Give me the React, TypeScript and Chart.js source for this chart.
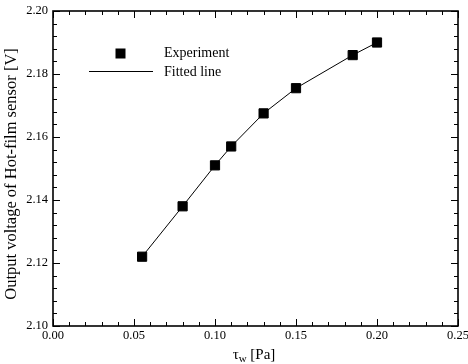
import React, { useEffect, useRef } from "react";
import { Chart, registerables } from "chart.js";
Chart.register(...registerables);

const tauW = [0.055, 0.08, 0.1, 0.11, 0.13, 0.15, 0.185, 0.2];
const voltage = [2.122, 2.138, 2.151, 2.157, 2.1675, 2.1755, 2.186, 2.19];
const fittedTau = [0.055, 0.08, 0.1, 0.11, 0.13, 0.15, 0.185, 0.2];
const fittedVoltage = [2.122, 2.138, 2.151, 2.157, 2.1675, 2.1755, 2.186, 2.19];
const xMajorStep = 0.05;
const xMinorStep = 0.01;
const yMajorStep = 0.02;
const yMinorStep = 0.004;
const xRange = [0, 0.25];
const yRange = [2.1, 2.2];
const legendLabels = ["Experiment", "Fitted line"];
const yTitle = "Output voltage of Hot-film sensor [V]";

const FONT = "'Liberation Serif', 'Times New Roman', serif";

const framePlugin = {
  id: "frameTicks",
  afterDatasetsDraw(chart: any) {
    const { ctx, chartArea: a, scales } = chart;
    const xs = scales.x, ys = scales.y;
    ctx.save();
    ctx.strokeStyle = "#000";
    ctx.lineWidth = 1;
    const tick = (v: number, major: boolean, axis: "x" | "y") => {
      const len = major ? 7 : 4;
      ctx.beginPath();
      if (axis === "x") {
        const p = Math.round(xs.getPixelForValue(v)) + 0.5;
        ctx.moveTo(p, a.bottom); ctx.lineTo(p, a.bottom - len);
        ctx.moveTo(p, a.top); ctx.lineTo(p, a.top + len);
      } else {
        const p = Math.round(ys.getPixelForValue(v)) + 0.5;
        ctx.moveTo(a.left, p); ctx.lineTo(a.left + len, p);
        ctx.moveTo(a.right, p); ctx.lineTo(a.right - len, p);
      }
      ctx.stroke();
    };
    const nx = Math.round((xRange[1] - xRange[0]) / xMinorStep);
    for (let i = 0; i <= nx; i++) {
      const v = xRange[0] + i * xMinorStep;
      const major = Math.abs(v / xMajorStep - Math.round(v / xMajorStep)) < 1e-6;
      tick(v, major, "x");
    }
    const ny = Math.round((yRange[1] - yRange[0]) / yMinorStep);
    for (let i = 0; i <= ny; i++) {
      const v = yRange[0] + i * yMinorStep;
      const r = (v - yRange[0]) / yMajorStep;
      const major = Math.abs(r - Math.round(r)) < 1e-6;
      tick(v, major, "y");
    }
    ctx.lineWidth = 1.6;
    ctx.strokeRect(a.left, a.top, a.right - a.left, a.bottom - a.top);

    // legend
    ctx.fillStyle = "#000";
    ctx.fillRect(115.5, 48.5, 10, 10);
    ctx.lineWidth = 1;
    ctx.beginPath();
    ctx.moveTo(89, 71.5); ctx.lineTo(153, 71.5);
    ctx.stroke();
    ctx.font = `14px ${FONT}`;
    ctx.textBaseline = "middle";
    ctx.textAlign = "left";
    ctx.fillText(legendLabels[0], 164, 53);
    ctx.fillText(legendLabels[1], 164, 72);

    // y title
    ctx.save();
    ctx.translate(12, 174);
    ctx.rotate(-Math.PI / 2);
    ctx.textAlign = "center";
    ctx.textBaseline = "middle";
    ctx.font = `16.5px ${FONT}`;
    ctx.fillText(yTitle, 0, 0);
    ctx.restore();

    // x title: tau_w [Pa]
    ctx.font = `15px ${FONT}`;
    ctx.textBaseline = "alphabetic";
    const t1 = "\u03C4", t2 = "w", t3 = " [Pa]";
    const w1 = ctx.measureText(t1).width;
    ctx.font = `11px ${FONT}`;
    const w2 = ctx.measureText(t2).width;
    ctx.font = `15px ${FONT}`;
    const w3 = ctx.measureText(t3).width;
    const cx = 254;
    let x0 = cx - (w1 + w2 + w3) / 2;
    const by = 359;
    ctx.fillText(t1, x0, by);
    ctx.font = `11px ${FONT}`;
    ctx.fillText(t2, x0 + w1, by + 3);
    ctx.font = `15px ${FONT}`;
    ctx.fillText(t3, x0 + w1 + w2, by);
    ctx.restore();
  },
};

export default function App() {
  const ref = useRef<HTMLCanvasElement>(null);
  useEffect(() => {
    document.body.style.margin = "0";
    const chart = new Chart(ref.current!, {
      type: "scatter",
      data: {
        datasets: [
          {
            label: legendLabels[0],
            data: tauW.map((x, i) => ({ x, y: voltage[i] })),
            pointStyle: "rect",
            pointRadius: 6.5,
            backgroundColor: "#000",
            borderColor: "#000",
            borderWidth: 1,
            showLine: false,
            order: 0,
          },
          {
            label: legendLabels[1],
            data: fittedTau.map((x, i) => ({ x, y: fittedVoltage[i] })),
            showLine: true,
            pointRadius: 0,
            borderColor: "#000",
            borderWidth: 1,
            order: 1,
          },
        ],
      },
      options: {
        animation: false,
        responsive: false,
        layout: { padding: { top: 11, right: 10, left: 0, bottom: 0 } },
        plugins: { legend: { display: false }, tooltip: { enabled: false } },
        scales: {
          x: {
            type: "linear",
            min: xRange[0],
            max: xRange[1],
            grid: { display: false, drawTicks: false },
            border: { display: false },
            ticks: {
              stepSize: xMajorStep,
              color: "#000",
              padding: 2,
              font: { family: FONT, size: 12.5 },
              callback: (v: any) => Number(v).toFixed(2),
              maxRotation: 0,
            },
            afterFit: (s: any) => {
              s.height = 38;
              s.paddingLeft = 0;
              s.paddingRight = 0;
            },
          },
          y: {
            type: "linear",
            min: yRange[0],
            max: yRange[1],
            grid: { display: false, drawTicks: false },
            border: { display: false },
            ticks: {
              stepSize: yMajorStep,
              color: "#000",
              padding: 5,
              font: { family: FONT, size: 12.5 },
              callback: (v: any) => Number(v).toFixed(2),
            },
            afterFit: (s: any) => {
              s.width = 53;
              s.paddingTop = 0;
              s.paddingBottom = 0;
            },
          },
        },
      },
      plugins: [framePlugin],
    } as any);
    return () => chart.destroy();
  }, []);
  return (
    <div style={{ width: 468, height: 364 }}>
      <canvas ref={ref} width={468} height={364} />
    </div>
  );
}
